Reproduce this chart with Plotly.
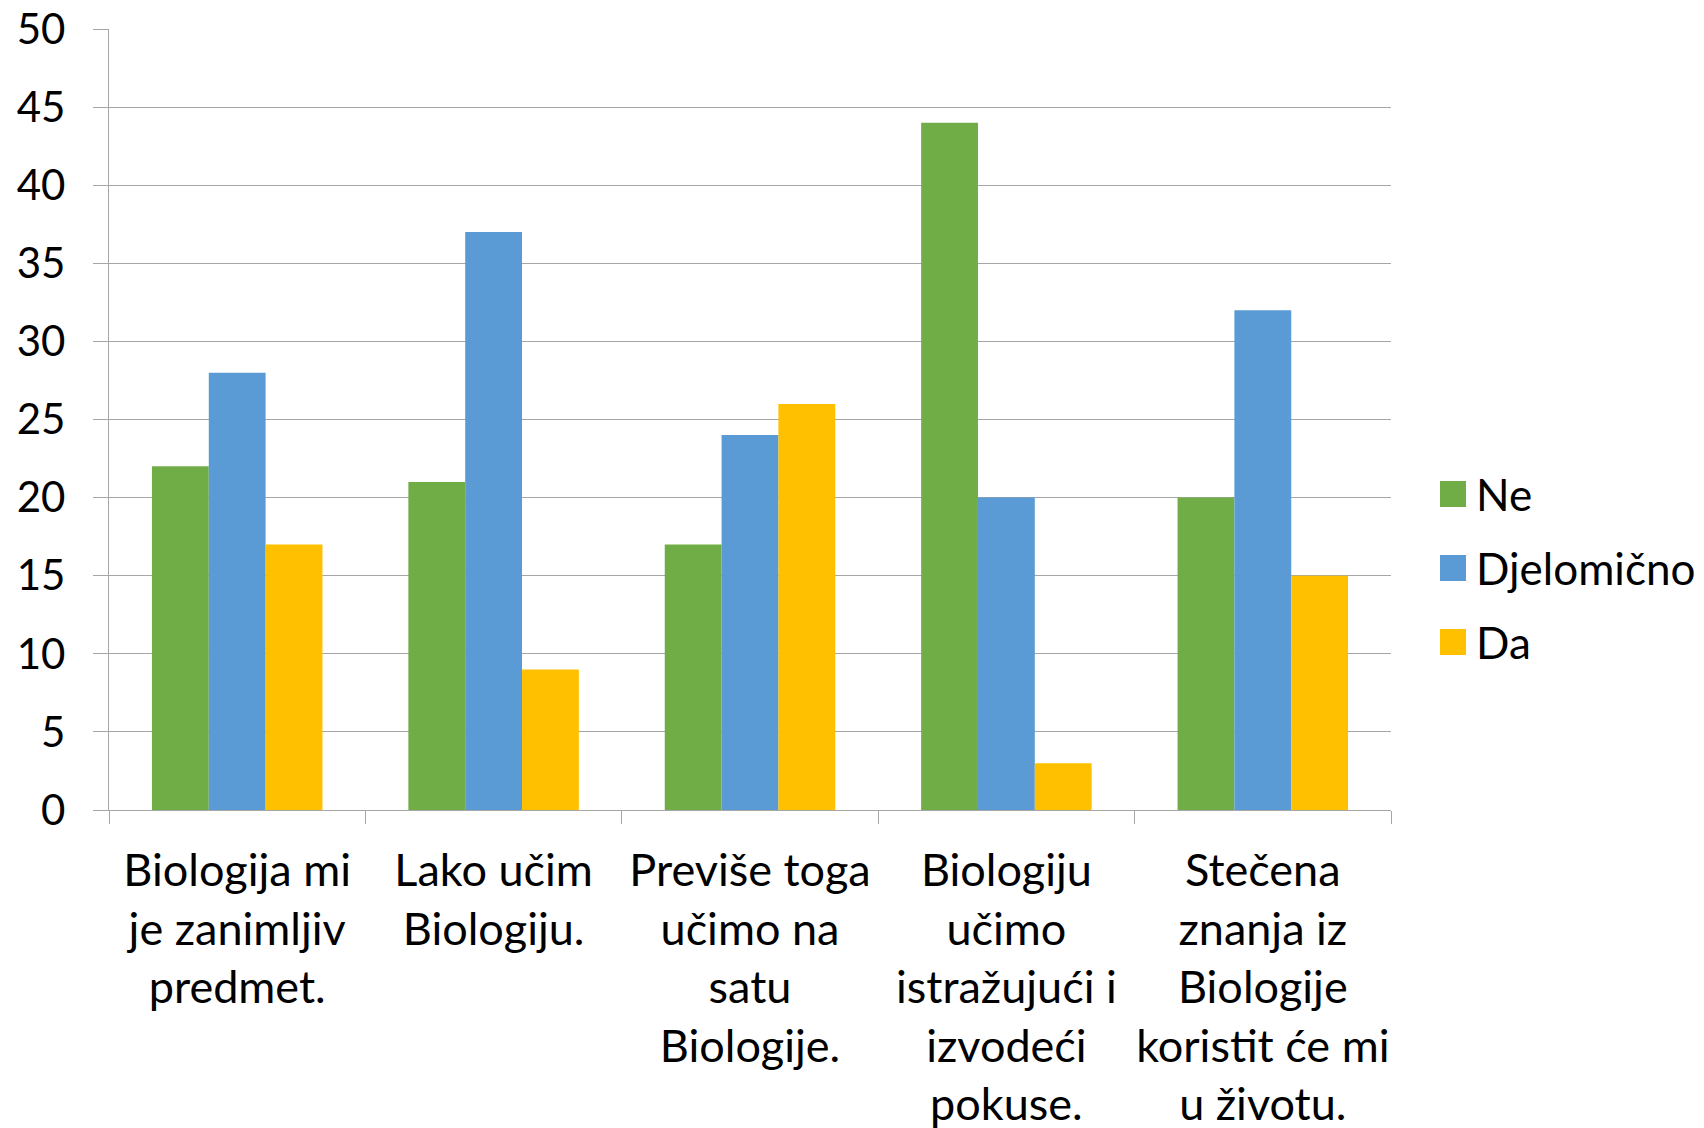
import plotly.graph_objects as go

categories = [
    "Biologija mi<br>je zanimljiv<br>predmet.",
    "Lako učim<br>Biologiju.",
    "Previše toga<br>učimo na<br>satu<br>Biologije.",
    "Biologiju<br>učimo<br>istražujući i<br>izvodeći<br>pokuse.",
    "Stečena<br>znanja iz<br>Biologije<br>koristit će mi<br>u životu.",
]
series_names = ["Ne", "Djelomično", "Da"]
ne_values = [22, 21, 17, 44, 20]
djelomicno_values = [28, 37, 24, 20, 32]
da_values = [17, 9, 26, 3, 15]
y_ticks = [0, 5, 10, 15, 20, 25, 30, 35, 40, 45, 50]

colors = ["#70AD47", "#5B9BD5", "#FFC000"]
series_values = [ne_values, djelomicno_values, da_values]
FONT = "Lato"

fig = go.Figure()
for name, vals, col in zip(series_names, series_values, colors):
    fig.add_trace(go.Bar(x=categories, y=vals, name=name, marker=dict(color=col, line=dict(width=0)),
                         showlegend=False))

OFF = 8  # page body margin
W, H = 1704 - OFF, 1128 - OFF
ml, mr, mt, mb = 101, 313, 21, 318
pw, ph = W - ml - mr, H - mt - mb

def px_to_paper_x(px):
    return (px - OFF - ml) / pw

def px_to_paper_y(py):
    return (H - mb - (py - OFF)) / ph

# manual legend (large square markers like the original)
shapes = []
annotations = []
leg_top = 494
leg_step = 74
half = 13
for i, (name, col) in enumerate(zip(series_names, colors)):
    cy = leg_top + i * leg_step
    shapes.append(dict(type="rect", xref="paper", yref="paper",
                       x0=px_to_paper_x(1440), x1=px_to_paper_x(1466),
                       y0=px_to_paper_y(cy + half), y1=px_to_paper_y(cy - half),
                       fillcolor=col, line=dict(width=0)))
    annotations.append(dict(text=name, xref="paper", yref="paper",
                            x=px_to_paper_x(1474), y=px_to_paper_y(cy),
                            xanchor="left", yanchor="middle", showarrow=False,
                            font=dict(family=FONT, size=44, color="black")))

fig.update_layout(
    width=W, height=H,
    margin=dict(l=ml, r=mr, t=mt, b=mb, autoexpand=False),
    paper_bgcolor="white", plot_bgcolor="white",
    barmode="group", bargap=0.335, bargroupgap=0,
    font=dict(family=FONT, size=40, color="black"),
    shapes=shapes, annotations=annotations,
    xaxis=dict(
        type="category", showgrid=False, showline=True, linecolor="#A6A6A6", linewidth=1.3,
        ticks="outside", tickson="boundaries", ticklen=13, tickcolor="#A6A6A6", tickwidth=1.3,
        tickfont=dict(family=FONT, size=45, color="black"), tickangle=0, ticklabelstandoff=21,
        ticklabeloverflow="allow",
    ),
    yaxis=dict(
        range=[0, 50], tickvals=y_ticks, showgrid=True, gridcolor="#A6A6A6", gridwidth=1.3,
        showline=True, linecolor="#A6A6A6", linewidth=1.3, zeroline=False,
        ticks="outside", ticklen=15, tickcolor="#A6A6A6", tickwidth=1.3,
        tickfont=dict(family=FONT, size=42, color="black"), ticklabelstandoff=19,
        ticklabeloverflow="allow",
    ),
)

fig.write_html("out.html")
